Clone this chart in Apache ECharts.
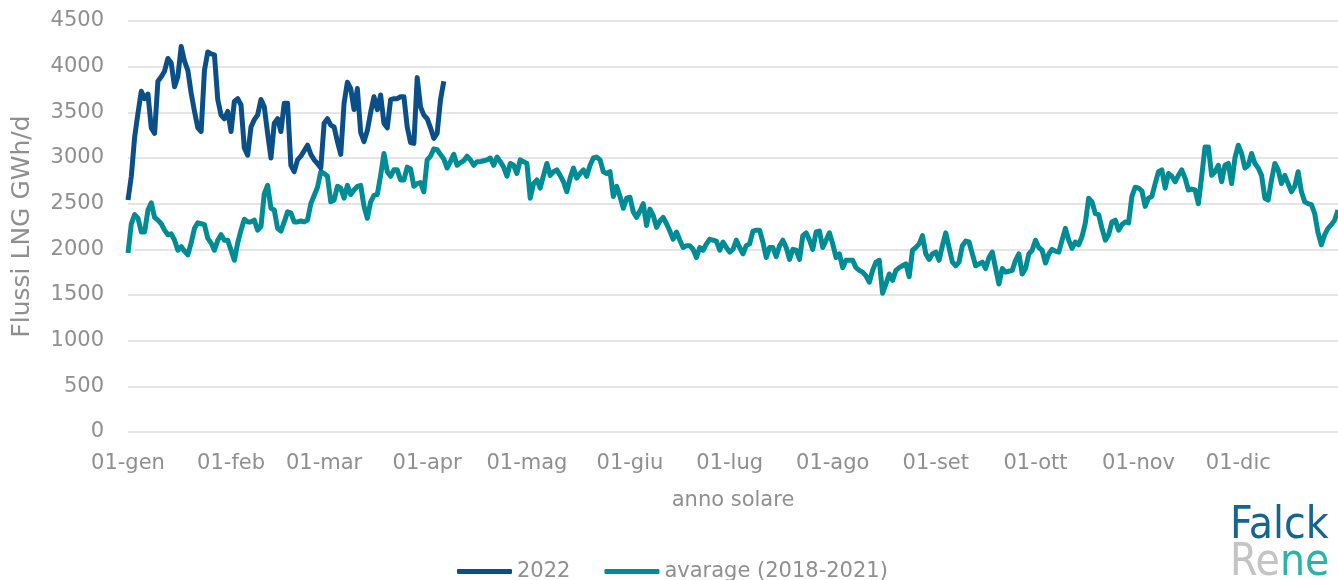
<!DOCTYPE html>
<html>
<head>
<meta charset="utf-8">
<script src="https://cdn.jsdelivr.net/npm/echarts@6/dist/echarts.min.js"></script>
<style>
  html, body { margin: 0; padding: 0; background: #fff; }
  #chart { width: 1338px; height: 580px; }
</style>
</head>
<body>
<div id="chart"></div>
<script>
// mesi e giorni (anno non bisestile)
var months = ['gen', 'feb', 'mar', 'apr', 'mag', 'giu', 'lug', 'ago', 'set', 'ott', 'nov', 'dic'];
var monthDays = [31, 28, 31, 30, 31, 30, 31, 31, 30, 31, 30, 31];

var yTicks = [0, 500, 1000, 1500, 2000, 2500, 3000, 3500, 4000, 4500];

// flussi 2022 (GWh/d), dal 01-gen
var flow2022 = [
  2540, 2800, 3230, 3490, 3730, 3650, 3700, 3330, 3270, 3840,
  3890, 3950, 4090, 4040, 3780, 3890, 4220, 4060, 3960, 3710,
  3510, 3330, 3290, 3960, 4160, 4140, 4130, 3640, 3470, 3430,
  3510, 3290, 3620, 3650, 3580, 3110, 3030, 3340, 3420, 3470,
  3640, 3560, 3270, 3000, 3380, 3430, 3290, 3600, 3600, 2920,
  2850, 2980, 3020, 3080, 3140, 3040, 2980, 2940, 2890, 3380,
  3430, 3360, 3340, 3180, 3040, 3600, 3830, 3760, 3530, 3760,
  3280, 3180, 3300, 3500, 3670, 3530, 3690, 3380, 3330, 3640,
  3650, 3650, 3670, 3670, 3340, 3170, 3160, 3880, 3560, 3470,
  3430, 3330, 3215, 3270, 3635, 3840
];

// media 2018-2021 (GWh/d)
var flowAvg = [
  1960, 2280, 2380, 2340, 2190, 2190, 2430, 2510, 2350, 2320,
  2280, 2210, 2160, 2170, 2100, 1990, 2030, 1980, 1940, 2070,
  2230, 2290, 2280, 2270, 2120, 2070, 1990, 2100, 2160, 2100,
  2100, 1990, 1880, 2070, 2210, 2330, 2300, 2300, 2320, 2210,
  2250, 2610, 2700, 2450, 2430, 2230, 2200, 2300, 2410, 2400,
  2300, 2300, 2310, 2300, 2320, 2500, 2590, 2680, 2850, 2830,
  2800, 2520, 2540, 2690, 2670, 2560, 2700, 2600, 2650, 2690,
  2700, 2470, 2340, 2520, 2590, 2600, 2810, 3050, 2850, 2800,
  2870, 2870, 2760, 2760, 2900, 2880, 2690, 2720, 2730, 2630,
  2980, 3020, 3100, 3090, 3040, 2990, 2890, 2960, 3040, 2920,
  2950, 2970, 3020, 2980, 2920, 2960, 2960, 2970, 2980, 3000,
  2920, 3010, 2960, 2900, 2800, 2940, 2920, 2830, 2980, 2960,
  2940, 2560, 2720, 2760, 2670, 2810, 2940, 2810, 2850, 2870,
  2810, 2740, 2630, 2780, 2890, 2780, 2830, 2870, 2800, 2920,
  3000, 3010, 2980, 2850, 2830, 2850, 2580, 2690, 2580, 2450,
  2560, 2570, 2410, 2350, 2420, 2500, 2260, 2440, 2370, 2240,
  2310, 2350, 2280, 2200, 2110, 2190, 2100, 2020, 2040, 2040,
  2000, 1910, 2020, 1990, 2060, 2110, 2100, 2090, 1990, 2080,
  2020, 1970, 2000, 2100, 2020, 1950, 2040, 2060, 2200, 2210,
  2210, 2080, 1910, 2020, 2020, 1920, 2040, 2100, 2020, 1890,
  2000, 1990, 1890, 2150, 2180, 2100, 2000, 2190, 2200, 2020,
  2100, 2180, 2060, 1910, 1950, 1800, 1880, 1880, 1880, 1800,
  1770, 1750, 1710, 1640, 1770, 1860, 1880, 1520, 1620, 1730,
  1660, 1770, 1800, 1820, 1840, 1700, 1990, 2020, 2060, 2150,
  1950, 1890, 1950, 1970, 1880, 2040, 2180, 2020, 1860, 1820,
  1860, 2040, 2090, 2080, 1950, 1820, 1840, 1860, 1790, 1910,
  1970, 1790, 1620, 1790, 1750, 1760, 1770, 1880, 1950, 1730,
  1790, 1950, 1990, 2100, 2020, 1990, 1850, 1950, 2000, 1980,
  1970, 2100, 2230, 2100, 2010, 2080, 2050, 2140, 2290, 2560,
  2520, 2390, 2380, 2230, 2100, 2160, 2300, 2320, 2210, 2270,
  2300, 2290, 2580, 2680, 2670, 2640, 2470, 2560, 2580, 2720,
  2850, 2870, 2670, 2830, 2800, 2740, 2810, 2870, 2780, 2650,
  2660, 2650, 2500, 2800, 3120, 3120, 2810, 2850, 2920, 2740,
  2920, 2940, 2720, 3000, 3140, 3050, 2890, 2920, 3050, 2940,
  2890, 2810, 2560, 2540, 2760, 2940, 2870, 2720, 2810, 2720,
  2630, 2690, 2850, 2630, 2520, 2500, 2490, 2390, 2180, 2050,
  2160, 2230, 2270, 2320, 2430
];

// etichette giornaliere "01-gen" ...
var days = [];
months.forEach(function (m, i) {
  for (var d = 1; d <= monthDays[i]; d++) {
    days.push((d < 10 ? '0' + d : '' + d) + '-' + m);
  }
});

var textColor = '#8f8f8f';
var fontFam = '"DejaVu Sans ExtraLight", "DejaVu Sans", sans-serif';

var chart = echarts.init(document.getElementById('chart'));
chart.setOption({
  animation: false,
  grid: { left: 128, right: 0, top: 21, bottom: 148, containLabel: false },
  legend: {
    data: ['2022', 'avarage (2018-2021)'],
    left: 457,
    top: 561,
    icon: 'roundRect',
    itemWidth: 55,
    itemHeight: 5,
    itemGap: 34,
    padding: 0,
    textStyle: { color: textColor, fontSize: 21, fontFamily: fontFam }
  },
  xAxis: {
    type: 'category',
    data: days,
    boundaryGap: false,
    name: 'anno solare',
    nameLocation: 'middle',
    nameGap: 58,
    nameTextStyle: { color: textColor, fontSize: 21, fontFamily: fontFam },
    axisLine: { show: false },
    axisTick: { show: false },
    axisLabel: {
      color: textColor,
      fontSize: 21,
      fontFamily: fontFam,
      margin: 21,
      interval: function (idx, val) { return val.indexOf('01-') === 0; }
    }
  },
  yAxis: {
    type: 'value',
    min: yTicks[0],
    max: yTicks[yTicks.length - 1],
    interval: 500,
    name: 'Flussi LNG GWh/d',
    nameLocation: 'middle',
    nameGap: 93,
    nameTextStyle: { color: textColor, fontSize: 25, fontFamily: fontFam },
    axisLine: { show: false },
    axisTick: { show: false },
    axisLabel: {
      color: textColor,
      fontSize: 21,
      fontFamily: fontFam,
      margin: 24,
      formatter: function (v) { return String(v); }
    },
    splitLine: { lineStyle: { color: '#dcdcdc', width: 1.5 } }
  },
  series: [
    {
      name: '2022',
      type: 'line',
      data: flow2022,
      showSymbol: false,
      z: 3,
      itemStyle: { color: '#0a4f88' },
      lineStyle: { color: '#0a4f88', width: 5, join: 'round' }
    },
    {
      name: 'avarage (2018-2021)',
      type: 'line',
      data: flowAvg,
      showSymbol: false,
      z: 2,
      itemStyle: { color: '#008c94' },
      lineStyle: { color: '#008c94', width: 5, join: 'round' }
    }
  ],
  graphic: [
    {
      type: 'text',
      left: 1230,
      top: 505,
      style: {
        text: 'Falck',
        fill: '#14658f',
        font: '44px "DejaVu Sans Condensed", sans-serif'
      }
    },
    {
      type: 'text',
      left: 1230,
      top: 542,
      style: {
        text: '{a|Re}{b|ne}',
        rich: {
          a: { fill: '#c4c4c4', font: '44px "DejaVu Sans Condensed", sans-serif' },
          b: { fill: '#2bb3a8', font: '44px "DejaVu Sans Condensed", sans-serif' }
        }
      }
    }
  ]
});
</script>
</body>
</html>
